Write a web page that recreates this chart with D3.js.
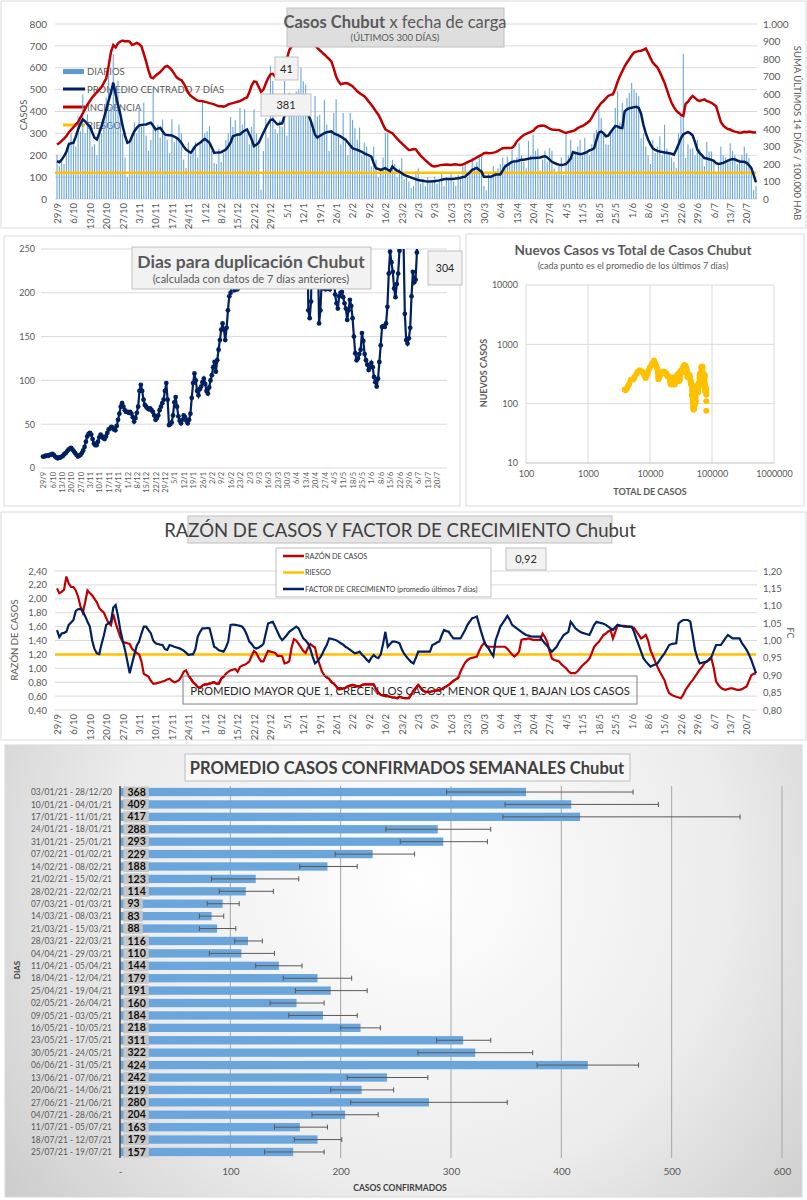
<!DOCTYPE html>
<html>
<head>
<meta charset="utf-8">
<script src="https://cdn.jsdelivr.net/npm/d3@7"></script>
<style>
  body { margin: 0; background: #fff; }
  svg { display: block; }
</style>
</head>
<body>
<svg id="chart" width="807" height="1200"></svg>
<script>
// ---- datos ----
var fechas = ["29/9","6/10","13/10","20/10","27/10","3/11","10/11","17/11","24/11","1/12","8/12","15/12","22/12","29/12","5/1","12/1","19/1","26/1","2/2","9/2","16/2","23/2","2/3","9/3","16/3","23/3","30/3","6/4","13/4","20/4","27/4","4/5","11/5","18/5","25/5","1/6","8/6","15/6","22/6","29/6","6/7","13/7","20/7"];

// casos diarios desde 29/9
var diarios = [
  203,150,175,160,220,260,300,250,240,380,
  310,478,300,387,330,240,250,200,330,300,
  360,463,593,420,662,480,540,370,300,190,
  100,270,300,350,300,422,330,440,290,220,
  270,509,330,340,280,364,290,270,210,364,
  260,280,341,300,180,142,260,200,240,260,
  190,250,440,300,310,333,220,165,160,230,
  170,210,270,300,375,330,360,300,417,340,
  410,300,250,330,410,300,260,43,220,370,
  280,609,540,320,300,360,330,540,290,486,
  380,430,492,500,601,538,523,420,400,350,
  471,378,385,300,454,341,220,300,393,456,
  300,250,393,280,200,394,362,324,271,326,
  200,257,240,190,150,240,180,100,140,190,
  303,301,130,179,160,100,140,187,90,110,
  80,50,60,128,140,70,90,60,100,80,
  80,102,70,90,120,60,100,90,120,80,
  60,110,90,148,160,100,130,190,150,170,
  190,194,60,40,120,100,150,120,140,160,
  190,160,194,170,225,180,190,255,200,170,
  140,266,200,294,220,230,130,180,220,170,
  232,220,140,120,160,190,110,297,200,271,
  190,220,240,271,200,280,220,200,250,300,
  317,416,370,290,250,248,300,320,416,492,
  350,439,400,462,485,531,500,485,470,278,
  300,240,200,160,271,210,240,286,200,339,
  230,210,190,170,141,300,380,664,187,250,
  230,232,200,271,230,200,150,260,217,217,
  180,120,160,240,200,190,180,255,220,200,
  160,180,200,240,209,187,120,41,60
];

var promedio7 = [
  173,168,180,196,215,250,255,257,285,318,
  345,364,355,341,333,305,280,272,300,333,
  370,410,450,486,532,479,430,387,333,290,
  257,262,287,310,325,336,338,340,341,345,
  349,335,318,322,326,310,295,292,291,290,
  285,280,270,257,240,226,218,211,225,242,
  250,257,266,275,266,257,235,211,212,213,
  214,220,226,240,257,287,291,295,295,305,
  312,318,296,272,242,248,257,280,303,325,
  345,361,364,352,341,344,346,380,410,425,
  435,440,442,440,430,415,400,385,364,330,
  294,281,288,295,301,305,307,309,300,295,
  291,285,278,271,258,245,232,228,225,220,
  215,209,204,199,194,165,141,137,133,137,
  141,134,128,148,138,130,125,118,110,106,
  102,98,94,90,87,85,83,81,80,80,
  81,81,83,85,88,90,91,91,92,92,
  94,95,97,100,102,112,122,133,138,142,
  133,125,102,102,102,102,107,112,112,112,
  130,148,155,163,170,172,173,176,180,180,
  182,184,186,188,188,189,190,193,196,190,
  180,170,165,160,157,155,157,160,171,185,
  214,210,208,205,207,210,215,222,226,232,
  270,303,309,300,287,290,305,320,333,332,
  326,324,401,410,415,417,420,422,416,390,
  339,301,272,250,232,225,220,217,215,213,
  211,209,207,203,225,250,278,295,301,306,
  300,290,260,225,210,200,187,185,182,179,
  175,164,160,162,165,170,175,180,183,181,
  176,171,170,170,165,155,141,110,76
];

// suma ultimos 14 dias / 100.000 hab
var incidencia = [
  311,320,332,345,360,380,395,410,425,440,
  465,490,515,540,560,580,595,610,625,640,
  665,690,760,840,880,866,890,900,905,900,
  903,900,880,885,892,885,872,830,785,735,
  695,690,705,715,725,740,755,760,750,735,
  715,695,685,680,660,635,605,590,580,570,
  562,560,558,555,552,548,545,541,535,530,
  530,528,532,540,545,548,552,556,560,566,
  575,580,610,650,672,668,640,612,625,660,
  690,712,715,700,692,700,720,750,800,850,
  872,885,905,920,930,935,930,920,905,890,
  878,864,850,838,826,812,800,785,745,700,
  673,655,660,663,660,652,644,630,615,605,
  596,587,572,555,539,520,500,482,455,425,
  398,390,382,376,360,345,331,318,305,292,
  280,282,285,283,265,248,235,222,210,198,
  188,186,188,192,195,196,197,196,195,197,
  198,196,195,197,203,210,216,222,230,238,
  245,252,262,264,262,263,265,268,275,283,
  290,292,291,292,293,305,329,342,355,366,
  372,378,383,390,405,415,418,420,417,410,
  402,397,396,395,394,388,382,378,382,386,
  388,395,405,412,417,425,435,445,465,490,
  512,530,548,560,575,589,595,598,630,670,
  703,730,758,780,800,820,837,842,845,847,
  852,860,835,805,780,765,751,725,695,665,
  625,585,550,525,505,493,480,474,545,555,
  575,589,578,565,560,565,569,560,555,550,
  540,530,485,440,420,408,400,397,390,385,
  382,378,380,384,382,386,383,380,382
];
var riesgoCasos = 120;

// dias para duplicacion (valores > 250 quedan fuera del grafico)
var duplicacion = [
  13,13,14,14,14,15,15,16,15,13,
  12,11,12,12,13,14,16,17,19,21,
  22,23,21,19,17,15,13,14,15,17,
  20,24,30,36,39,40,38,33,28,26,
  26,30,35,38,36,34,33,36,40,44,
  45,47,46,44,43,48,55,62,70,74,
  70,66,64,64,63,64,62,58,53,57,
  63,70,88,95,88,78,72,70,68,67,
  68,66,64,60,55,57,60,66,70,74,
  78,88,97,78,49,50,52,60,75,81,
  70,59,54,51,55,60,58,54,51,55,
  62,80,97,108,100,88,83,90,93,98,
  102,96,88,85,92,100,106,115,121,110,
  123,135,146,158,165,158,146,160,180,196,
  200,210,260,203,205,204,206,280,300,330,
  360,400,420,480,520,560,600,640,700,760,
  800,820,850,860,880,900,900,880,860,820,
  780,720,660,600,540,500,460,430,400,380,
  400,440,480,500,470,440,400,380,360,340,
  320,300,290,280,275,270,265,290,180,171,
  190,280,320,300,280,260,165,180,215,205,
  205,204,205,206,204,260,300,220,198,188,
  182,196,200,201,195,188,182,169,180,192,
  185,171,150,131,123,125,130,135,154,145,
  130,123,118,112,115,120,115,104,98,93,
  102,121,140,161,162,161,165,184,222,247,
  235,224,205,195,210,222,248,270,300,260,
  176,146,142,148,160,196,224,212,215,246,
  304
];

var totalInicial = 3700;

var razon = [
  2.15,2.08,2.10,2.13,2.32,2.22,2.17,2.17,2.12,2.03,
  1.89,1.80,1.95,2.12,2.08,2.05,2.00,1.95,1.87,1.83,
  1.80,1.72,1.65,1.62,1.78,1.65,1.55,1.45,1.38,1.37,
  1.36,1.35,1.28,1.25,1.22,1.20,1.10,0.92,0.90,0.88,
  0.82,0.78,0.78,0.79,0.80,0.81,0.82,0.84,0.85,0.82,
  0.80,0.81,0.83,0.88,0.95,0.97,0.90,0.85,0.80,0.77,
  0.73,0.72,0.75,0.77,0.77,0.78,0.79,0.80,0.78,0.78,
  0.85,0.88,0.92,0.95,0.97,0.98,0.99,0.95,1.02,1.04,
  1.05,1.07,1.10,1.18,1.25,1.22,1.15,1.10,1.10,1.18,
  1.25,1.24,1.23,1.22,1.18,1.18,1.17,1.07,1.08,1.10,
  1.30,1.42,1.40,1.35,1.30,1.25,1.22,1.30,1.35,1.32,
  1.30,1.15,1.05,0.95,0.90,0.87,0.85,0.80,0.78,0.74,
  0.70,0.70,0.71,0.72,0.74,0.75,0.76,0.75,0.74,0.74,
  0.76,0.77,0.77,0.77,0.77,0.77,0.70,0.65,0.62,0.61,
  0.60,0.60,0.59,0.58,0.58,0.57,0.59,0.58,0.57,0.57,
  0.57,0.62,0.68,0.72,0.76,0.72,0.68,0.66,0.66,0.66,
  0.67,0.68,0.68,0.69,0.70,0.72,0.74,0.76,0.79,0.82,
  0.84,0.86,0.95,1.02,1.08,1.12,1.14,1.15,1.16,1.17,
  1.25,1.32,1.36,1.33,1.31,1.31,1.31,1.31,1.31,1.31,
  1.31,1.31,1.28,1.24,1.20,1.17,1.20,1.24,1.41,1.42,
  1.42,1.43,1.42,1.41,1.41,1.41,1.41,1.50,1.45,1.38,
  1.25,1.14,1.12,1.11,1.10,1.06,1.03,1.00,0.96,0.93,
  0.93,0.93,0.96,1.00,1.04,1.07,1.10,1.14,1.22,1.31,
  1.35,1.38,1.43,1.48,1.50,1.53,1.55,1.43,1.52,1.62,
  1.61,1.61,1.61,1.60,1.60,1.59,1.58,1.53,1.48,1.43,
  1.45,1.48,1.40,1.26,1.18,1.10,1.02,0.95,0.89,0.83,
  0.72,0.64,0.62,0.60,0.59,0.58,0.57,0.62,0.69,0.74,
  0.79,0.83,0.88,0.93,0.98,1.02,1.07,1.10,1.12,1.14,
  1.00,0.81,0.76,0.72,0.70,0.69,0.70,0.71,0.71,0.70,
  0.69,0.69,0.70,0.72,0.74,0.82,0.90,0.92,0.93
];

var factor = [
  1.030,1.010,1.020,1.022,1.025,1.045,1.052,1.059,1.085,1.090,
  1.091,1.085,1.070,1.054,1.040,1.000,0.975,0.963,0.961,0.990,
  1.015,1.045,1.050,1.054,1.095,1.102,1.070,1.030,1.000,0.973,
  0.940,0.906,0.934,0.960,0.985,0.997,1.020,1.040,1.040,1.030,
  1.021,1.000,0.992,0.990,0.988,0.987,0.975,0.973,0.987,0.985,
  0.982,0.980,0.978,0.975,0.971,0.965,0.958,0.960,0.960,0.975,
  1.011,1.025,1.035,1.035,1.036,1.035,1.010,0.982,0.978,0.972,
  0.970,0.968,0.980,0.997,1.045,1.046,1.045,1.044,1.042,1.040,
  1.030,1.015,0.997,0.990,0.980,0.977,0.980,0.984,0.990,1.020,
  1.049,1.052,1.054,1.040,1.025,1.010,1.001,1.008,1.016,1.025,
  1.030,1.035,1.040,1.035,1.020,1.006,1.000,0.992,0.975,0.953,
  0.934,0.940,0.949,0.960,0.975,0.987,1.006,1.005,1.003,1.001,
  0.997,0.992,0.988,0.982,0.978,0.973,0.968,0.963,0.965,0.968,
  0.960,0.953,0.945,0.939,0.950,0.958,0.952,0.949,0.960,0.990,
  1.025,0.982,0.990,0.997,0.997,0.995,0.992,0.975,0.962,0.953,
  0.945,0.938,0.934,0.950,0.968,0.968,0.968,0.968,0.968,0.968,
  0.987,0.990,0.994,0.997,1.015,1.030,1.027,1.025,1.015,1.006,
  1.006,1.006,1.006,1.018,1.030,1.045,1.055,1.064,1.066,1.069,
  1.045,1.021,1.000,0.985,0.977,0.965,0.955,1.001,1.020,1.040,
  1.050,1.060,1.071,1.060,1.045,1.040,1.035,1.030,1.025,1.020,
  1.016,1.014,1.012,1.011,1.011,1.011,1.011,1.000,0.992,0.985,
  0.975,0.968,0.975,0.982,0.995,1.005,1.016,1.020,1.025,1.054,
  1.045,1.035,1.030,1.025,1.022,1.020,1.018,1.016,1.030,1.045,
  1.054,1.052,1.050,1.048,1.045,1.040,1.035,1.030,1.038,1.045,
  1.043,1.041,1.040,1.040,1.040,1.040,1.025,1.005,0.987,0.968,
  0.949,0.940,0.932,0.925,0.928,0.931,0.934,0.944,0.954,0.963,
  0.975,0.987,0.990,0.991,0.992,1.049,1.055,1.059,1.059,1.059,
  1.054,1.015,0.973,0.950,0.934,0.936,0.938,0.939,0.946,0.953,
  0.970,0.987,0.987,0.987,0.997,1.007,1.016,1.011,1.006,1.006,
  1.006,1.006,0.992,0.983,0.973,0.960,0.944,0.925,0.906
];
var riesgoRazon = 1.2;

var semanas = ["03/01/21 - 28/12/20","10/01/21 - 04/01/21","17/01/21 - 11/01/21","24/01/21 - 18/01/21","31/01/21 - 25/01/21","07/02/21 - 01/02/21","14/02/21 - 08/02/21","21/02/21 - 15/02/21","28/02/21 - 22/02/21","07/03/21 - 01/03/21","14/03/21 - 08/03/21","21/03/21 - 15/03/21","28/03/21 - 22/03/21","04/04/21 - 29/03/21","11/04/21 - 05/04/21","18/04/21 - 12/04/21","25/04/21 - 19/04/21","02/05/21 - 26/04/21","09/05/21 - 03/05/21","16/05/21 - 10/05/21","23/05/21 - 17/05/21","30/05/21 - 24/05/21","06/06/21 - 31/05/21","13/06/21 - 07/06/21","20/06/21 - 14/06/21","27/06/21 - 21/06/21","04/07/21 - 28/06/21","11/07/21 - 05/07/21","18/07/21 - 12/07/21","25/07/21 - 19/07/21"];
var promedioSemanal = [368,409,417,288,293,229,188,123,114,93,83,88,116,110,144,179,191,160,184,218,311,322,424,242,219,280,204,163,179,157];
var minSemanal = [296,349,347,241,254,195,163,83,90,79,72,72,104,81,123,148,159,136,153,200,287,270,378,206,191,209,174,140,158,131];
var maxSemanal = [465,488,562,336,333,267,215,162,139,108,94,105,129,140,165,210,224,185,215,236,336,374,470,279,248,351,234,188,201,185];

// ---- estilo ----
var FUENTE = "Lato, 'Open Sans', sans-serif";
var gris = "#595959", grisOsc = "#404040", grilla = "#d9d9d9";
var azul = "#002060", rojo = "#c00000", amarillo = "#ffc000", celeste = "#5b9bd5";
var es = d3.formatLocale({ decimal: ",", thousands: ".", grouping: [3], currency: ["$", ""] });

var svg = d3.select("#chart").attr("font-family", FUENTE);
var defs = svg.append("defs");

function marco(x, y, w, h, fill) {
  return svg.append("rect").attr("x", x).attr("y", y).attr("width", w).attr("height", h)
    .attr("fill", fill || "#fff").attr("stroke", "#d9d9d9");
}
function caja(g, x, y, w, h, fill) {
  return g.append("rect").attr("x", x).attr("y", y).attr("width", w).attr("height", h)
    .attr("fill", fill).attr("stroke", "#bfbfbf");
}
function texto(g, x, y, t, size, color, anchor, weight) {
  return g.append("text").attr("x", x).attr("y", y).text(t)
    .attr("font-size", size).attr("fill", color || gris)
    .attr("text-anchor", anchor || "start").attr("font-weight", weight || "normal");
}
function limpiar(a, size) {
  a.attr("font-family", FUENTE);
  a.select(".domain").remove();
  a.selectAll("text").attr("fill", gris).attr("font-size", size);
}
function ejeFechas(g, x, y0, size) {
  g.append("g").attr("transform", "translate(0," + y0 + ")")
    .call(d3.axisBottom(x).tickValues(fechas.map(function (f, i) { return i * 7; }))
      .tickFormat(function (d, i) { return fechas[i]; }).tickSize(0))
    .call(function (a) {
      limpiar(a, size);
      a.selectAll("text").attr("transform", "rotate(-90)").attr("text-anchor", "end")
        .attr("x", -4).attr("y", 0).attr("dy", "0.35em");
    });
}
function lineaH(g, x1, x2, y, color, w) {
  g.append("line").attr("x1", x1).attr("x2", x2).attr("y1", y).attr("y2", y)
    .attr("stroke", color).attr("stroke-width", w);
}

// =========== 1. Casos Chubut x fecha de carga ===========
marco(1, 1, 805, 227);
var g1 = svg.append("g");
var x1 = d3.scaleLinear().domain([0, diarios.length - 1]).range([57, 756]);
var y1 = d3.scaleLinear().domain([0, 800]).range([199, 24]);
var y1b = d3.scaleLinear().domain([0, 1000]).range([199, 24]);

y1.ticks(8).forEach(function (t) { lineaH(g1, 55, 757, y1(t), grilla, 1); });

// leyenda (queda por debajo de las series)
var ley1 = [["DIARIOS", celeste, "bar"], ["PROMEDIO CENTRADO 7 DÍAS", azul], ["INCIDENCIA", rojo], ["RIESGO", amarillo]];
ley1.forEach(function (l, i) {
  var yy = 71 + i * 18;
  if (l[2]) g1.append("rect").attr("x", 63).attr("y", yy - 2).attr("width", 21).attr("height", 5).attr("fill", l[1]);
  else lineaH(g1, 63, 85, yy, l[1], 3);
  texto(g1, 87, yy + 3.5, l[0], 9.5, gris);
});

g1.append("g").selectAll("rect").data(diarios).join("rect")
  .attr("x", function (d, i) { return x1(i) - 0.55; })
  .attr("y", function (d) { return y1(d); })
  .attr("width", 1.1)
  .attr("height", function (d) { return y1(0) - y1(d); })
  .attr("fill", "#6aa6dd");

lineaH(g1, x1(0) - 2, x1(diarios.length - 1), y1(riesgoCasos), amarillo, 2.5);

g1.append("path").datum(promedio7)
  .attr("d", d3.line().x(function (d, i) { return x1(i); }).y(function (d) { return y1(d); }))
  .attr("fill", "none").attr("stroke", azul).attr("stroke-width", 2.5);
g1.append("path").datum(incidencia)
  .attr("d", d3.line().x(function (d, i) { return x1(i); }).y(function (d) { return y1b(d); }))
  .attr("fill", "none").attr("stroke", rojo).attr("stroke-width", 2.5);

g1.append("g").attr("transform", "translate(55,0)")
  .call(d3.axisLeft(y1).ticks(8).tickSize(0).tickPadding(8))
  .call(function (a) { limpiar(a, 10); });
g1.append("g").attr("transform", "translate(757,0)")
  .call(d3.axisRight(y1b).ticks(10).tickSize(0).tickPadding(6).tickFormat(es.format(",d")))
  .call(function (a) { limpiar(a, 10); });
ejeFechas(g1, x1, 199, 9.5);

texto(g1, 0, 0, "CASOS", 9.5, gris, "middle").attr("transform", "translate(27,115) rotate(-90)");
texto(g1, 0, 0, "SUMA  ÚLTIMOS 14 DÍAS / 100.000 HAB", 9.5, gris, "middle").attr("transform", "translate(794,133) rotate(90)");

caja(g1, 287, 8, 217, 39, "#dedede");
var t1 = texto(g1, 395, 28, "", 16.5, gris, "middle");
t1.append("tspan").attr("font-weight", "bold").text("Casos Chubut");
t1.append("tspan").text(" x fecha de carga");
texto(g1, 395, 41, "(ÚLTIMOS 300 DÍAS)", 9.5, gris, "middle");

caja(g1, 275, 57, 23, 23, "#f2f2f2");
texto(g1, 286.5, 72.5, "41", 11, "#262626", "middle");
caja(g1, 261, 94, 50, 22, "#f2f2f2");
texto(g1, 286, 109, "381", 11, "#262626", "middle");

// =========== 2. Dias para duplicacion ===========
marco(4, 236, 456, 270);
var g2 = svg.append("g");
var x2 = d3.scaleLinear().domain([0, 294]).range([43, 437]);
var y2 = d3.scaleLinear().domain([0, 250]).range([468, 249]);
y2.ticks(5).forEach(function (t) { lineaH(g2, 41, 447, y2(t), grilla, 1); });

defs.append("clipPath").attr("id", "clipDup")
  .append("rect").attr("x", 30).attr("y", 249).attr("width", 420).attr("height", 227);
var gd = g2.append("g").attr("clip-path", "url(#clipDup)");
gd.append("path").datum(duplicacion)
  .attr("d", d3.line().x(function (d, i) { return x2(i); }).y(function (d) { return y2(d); }))
  .attr("fill", "none").attr("stroke", azul).attr("stroke-width", 2.2);
gd.selectAll("circle").data(duplicacion).join("circle")
  .attr("cx", function (d, i) { return x2(i); })
  .attr("cy", function (d) { return y2(d); })
  .attr("r", 2.4).attr("fill", azul);

g2.append("g").attr("transform", "translate(41,0)")
  .call(d3.axisLeft(y2).ticks(5).tickSize(0).tickPadding(6))
  .call(function (a) { limpiar(a, 9); });
ejeFechas(g2, x2, 468, 7.5);

caja(g2, 132, 247, 239, 42, "#f2f2f2");
texto(g2, 251, 268, "Dias para duplicación Chubut", 17.5, gris, "middle", "bold");
texto(g2, 251, 283, "(calculada con datos de 7 días anteriores)", 11, gris, "middle");
caja(g2, 428, 251, 34, 34, "#f2f2f2");
texto(g2, 445, 272, "304", 10.5, "#262626", "middle");

// =========== 3. Nuevos casos vs total ===========
marco(466, 234, 338, 272);
var g3 = svg.append("g");
var x3 = d3.scaleLog().domain([100, 1000000]).range([526, 774]);
var y3 = d3.scaleLog().domain([10, 10000]).range([463, 285]);
var decX = [100, 1000, 10000, 100000, 1000000], decY = [10, 100, 1000, 10000];
decX.forEach(function (t) {
  g3.append("line").attr("x1", x3(t)).attr("x2", x3(t)).attr("y1", 285).attr("y2", 463).attr("stroke", grilla);
});
decY.forEach(function (t) { lineaH(g3, 526, 774, y3(t), t === 10 ? "#bfbfbf" : grilla, 1); });

var acumulado = totalInicial;
var puntos = diarios.map(function (d, i) {
  acumulado += d;
  return [acumulado, promedio7[i]];
});
g3.append("g").selectAll("circle").data(puntos).join("circle")
  .attr("cx", function (d) { return x3(d[0]); })
  .attr("cy", function (d) { return y3(d[1]); })
  .attr("r", 3).attr("fill", amarillo);

g3.append("g").attr("transform", "translate(526,0)")
  .call(d3.axisLeft(y3).tickValues(decY).tickFormat(d3.format("d")).tickSize(0).tickPadding(8))
  .call(function (a) { limpiar(a, 9); });
g3.append("g").attr("transform", "translate(0,463)")
  .call(d3.axisBottom(x3).tickValues(decX).tickFormat(d3.format("d")).tickSize(0).tickPadding(8))
  .call(function (a) { limpiar(a, 9); });

texto(g3, 633, 255, "Nuevos Casos vs Total de Casos Chubut", 13.5, gris, "middle", "bold");
texto(g3, 633, 269, "(cada punto es el promedio de los últimos 7 días)", 9, gris, "middle");
texto(g3, 650, 495, "TOTAL DE CASOS", 9, gris, "middle", "bold");
texto(g3, 0, 0, "NUEVOS CASOS", 9, gris, "middle", "bold").attr("transform", "translate(487,373) rotate(-90)");

// =========== 4. Razon de casos y factor de crecimiento ===========
marco(1, 512, 805, 228);
var g4 = svg.append("g");
var x4 = d3.scaleLinear().domain([0, razon.length - 1]).range([57, 756]);
var y4 = d3.scaleLinear().domain([0.4, 2.4]).range([710, 571]);
var y4b = d3.scaleLinear().domain([0.8, 1.2]).range([710, 571]);
var ticks4 = d3.range(0.4, 2.41, 0.2);
ticks4.forEach(function (t) { lineaH(g4, 55, 757, y4(t), grilla, 1); });

lineaH(g4, x4(0) - 2, x4(razon.length - 1), y4(riesgoRazon), amarillo, 2.5);
var lineaRazon = d3.line().x(function (d, i) { return x4(i); }).y(function (d) { return y4(d); });
g4.append("path").datum(razon).attr("d", lineaRazon)
  .attr("fill", "none").attr("stroke", rojo).attr("stroke-width", 2.2);
g4.append("path").datum(factor)
  .attr("d", d3.line().x(function (d, i) { return x4(i); }).y(function (d) { return y4b(d); }))
  .attr("fill", "none").attr("stroke", azul).attr("stroke-width", 2.2);

g4.append("g").attr("transform", "translate(55,0)")
  .call(d3.axisLeft(y4).tickValues(ticks4).tickFormat(es.format(",.2f")).tickSize(0).tickPadding(8))
  .call(function (a) { limpiar(a, 9.5); });
g4.append("g").attr("transform", "translate(757,0)")
  .call(d3.axisRight(y4b).tickValues(d3.range(0.8, 1.201, 0.05)).tickFormat(es.format(",.2f")).tickSize(0).tickPadding(6))
  .call(function (a) { limpiar(a, 9.5); });
ejeFechas(g4, x4, 710, 9.5);

texto(g4, 0, 0, "RAZÓN  DE CASOS", 9.5, gris, "middle").attr("transform", "translate(18,640) rotate(-90)");
texto(g4, 0, 0, "FC", 9, gris, "middle").attr("transform", "translate(787,633) rotate(90)");

caja(g4, 188, 516, 424, 27, "#e7e6e6");
texto(g4, 400, 537, "RAZÓN DE CASOS Y FACTOR DE CRECIMIENTO Chubut", 18.5, grisOsc, "middle");

caja(g4, 276, 548, 215, 49, "#fff");
[["RAZÓN DE CASOS", rojo], ["RIESGO", amarillo], ["FACTOR DE CRECIMIENTO (promedio últimos 7 días)", azul]].forEach(function (l, i) {
  var yy = 556 + i * 16.5;
  lineaH(g4, 283, 304, yy, l[1], 2.5);
  texto(g4, 305, yy + 2.7, l[0], 7.3, grisOsc);
});
caja(g4, 506, 548, 40, 22, "#f2f2f2");
texto(g4, 526, 563, "0,92", 11, "#262626", "middle");

g4.append("rect").attr("x", 183).attr("y", 676).attr("width", 454).attr("height", 28)
  .attr("fill", "none").attr("stroke", "#7f7f7f");
texto(g4, 410, 694.5, "PROMEDIO MAYOR QUE 1, CRECEN LOS CASOS; MENOR QUE 1, BAJAN LOS CASOS", 11.3, "#262626", "middle");
// la serie roja pasa por encima del recuadro de texto
defs.append("clipPath").attr("id", "clipTxt")
  .append("rect").attr("x", 183).attr("y", 676).attr("width", 454).attr("height", 28);
g4.append("path").datum(razon).attr("d", lineaRazon)
  .attr("fill", "none").attr("stroke", rojo).attr("stroke-width", 2.2)
  .attr("clip-path", "url(#clipTxt)");

// =========== 5. Promedio casos confirmados semanales ===========
var grad = defs.append("radialGradient").attr("id", "fondo")
  .attr("gradientUnits", "userSpaceOnUse")
  .attr("cx", 420).attr("cy", 880).attr("r", 560);
grad.append("stop").attr("offset", 0).attr("stop-color", "#ffffff");
grad.append("stop").attr("offset", 0.55).attr("stop-color", "#ececec");
grad.append("stop").attr("offset", 1).attr("stop-color", "#c6c6c6");
marco(5, 745, 797, 452, "url(#fondo)");

var g5 = svg.append("g");
var x5 = d3.scaleLinear().domain([0, 600]).range([120, 782]);
var y5 = d3.scaleBand().domain(semanas).range([786, 1158]).paddingInner(0.33).paddingOuter(0.15);

d3.range(100, 601, 100).forEach(function (t) {
  g5.append("line").attr("x1", x5(t)).attr("x2", x5(t)).attr("y1", 786).attr("y2", 1158)
    .attr("stroke", "#a6a6a6").attr("stroke-width", 1);
});

g5.append("g").selectAll("rect").data(promedioSemanal).join("rect")
  .attr("x", x5(0))
  .attr("y", function (d, i) { return y5(semanas[i]); })
  .attr("width", function (d) { return x5(d) - x5(0); })
  .attr("height", y5.bandwidth())
  .attr("fill", "#6aa5dc");

// etiquetas de valor con fondo
var filas = g5.append("g").selectAll("g").data(promedioSemanal).join("g")
  .attr("transform", function (d, i) { return "translate(0," + (y5(semanas[i]) + y5.bandwidth() / 2) + ")"; });
filas.append("rect").attr("x", 123.5).attr("y", -5.5).attr("height", 11).attr("fill", "url(#fondo)");
filas.append("text").attr("x", 127.5).attr("y", 3.6).text(function (d) { return d; })
  .attr("font-size", 10.5).attr("font-weight", "bold").attr("fill", "#0d0d0d");
filas.each(function () {
  var w = d3.select(this).select("text").node().getComputedTextLength();
  d3.select(this).select("rect").attr("width", w + 7);
});

// barras de error
var err = g5.append("g").selectAll("g").data(promedioSemanal).join("g")
  .attr("transform", function (d, i) { return "translate(0," + (y5(semanas[i]) + y5.bandwidth() / 2) + ")"; })
  .attr("stroke", "#595959").attr("stroke-width", 1);
err.append("line").attr("x1", function (d, i) { return x5(minSemanal[i]); }).attr("x2", function (d, i) { return x5(maxSemanal[i]); });
err.append("line").attr("x1", function (d, i) { return x5(minSemanal[i]); }).attr("x2", function (d, i) { return x5(minSemanal[i]); }).attr("y1", -2.5).attr("y2", 2.5);
err.append("line").attr("x1", function (d, i) { return x5(maxSemanal[i]); }).attr("x2", function (d, i) { return x5(maxSemanal[i]); }).attr("y1", -2.5).attr("y2", 2.5);

g5.append("line").attr("x1", 120).attr("x2", 120).attr("y1", 786).attr("y2", 1158)
  .attr("stroke", "#404040").attr("stroke-width", 1.5);

g5.append("g").attr("transform", "translate(112,0)")
  .call(d3.axisLeft(y5).tickSize(0).tickPadding(0))
  .call(function (a) {
    limpiar(a, 10);
    a.selectAll("text").attr("textLength", 81).attr("lengthAdjust", "spacingAndGlyphs");
  });
g5.append("g").attr("transform", "translate(0,1162)")
  .call(d3.axisBottom(x5).tickValues(d3.range(0, 601, 100))
    .tickFormat(function (d) { return d === 0 ? "-" : d; }).tickSize(0).tickPadding(6))
  .call(function (a) { limpiar(a, 10); });

caja(g5, 185, 754, 445, 27, "#f7f7f7");
texto(g5, 407, 774, "PROMEDIO CASOS CONFIRMADOS SEMANALES Chubut", 16.5, grisOsc, "middle", "bold");
texto(g5, 400, 1191, "CASOS CONFIRMADOS", 8.5, grisOsc, "middle", "bold");
texto(g5, 0, 0, "DIAS", 8, grisOsc, "middle", "bold").attr("transform", "translate(20,970) rotate(-90)");
</script>
</body>
</html>
